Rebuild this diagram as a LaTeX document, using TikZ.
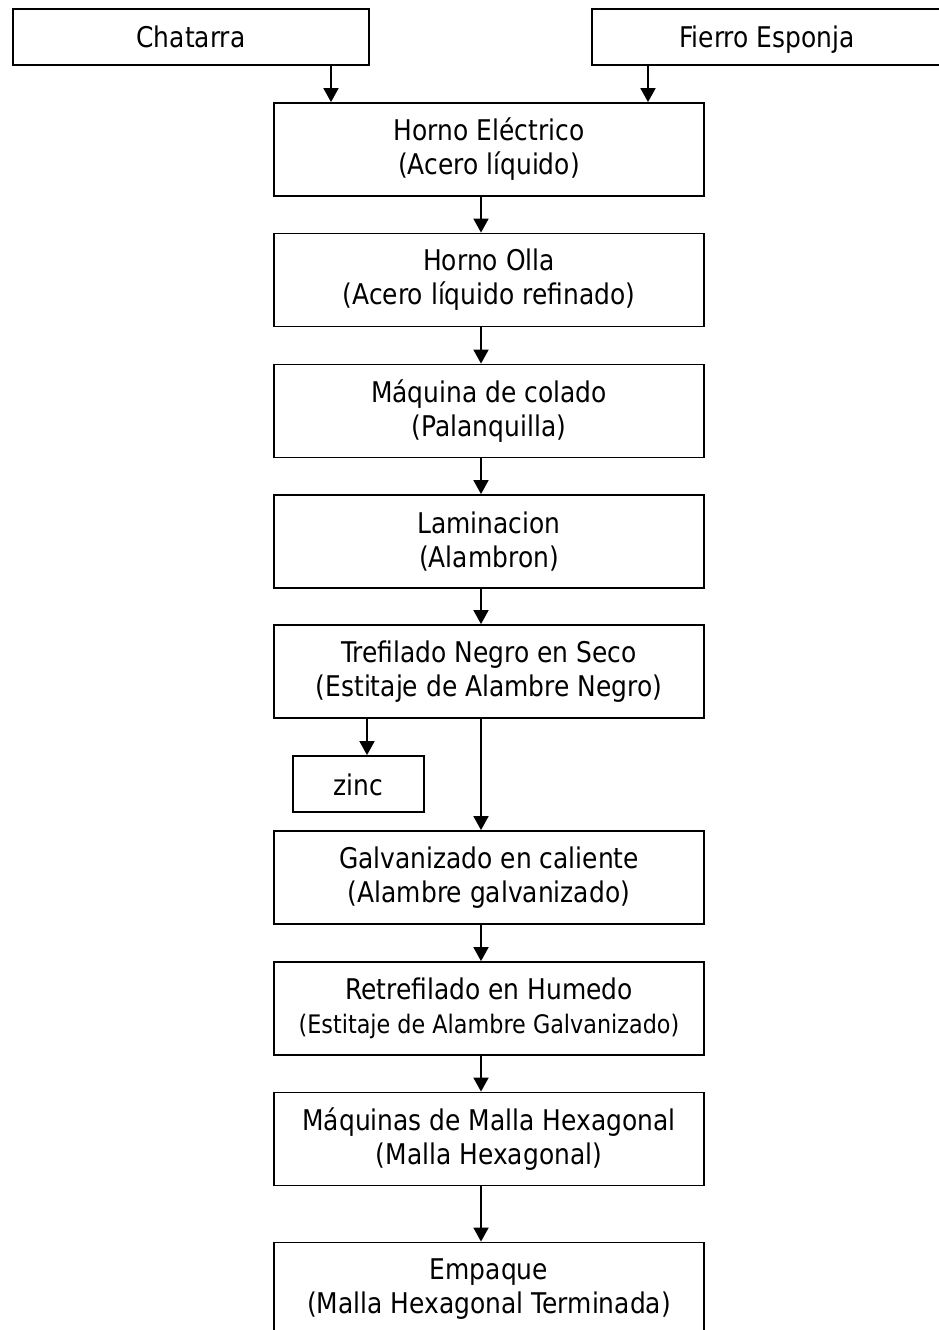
\documentclass[tikz,border=0pt]{standalone}
\usepackage{fontspec}
\setmainfont{DejaVu Sans}[FakeStretch=0.875]
\usetikzlibrary{arrows.meta}
\begin{document}
\begin{tikzpicture}[x=1pt,y=-1pt,
  box/.style={draw=black, line width=1.8pt, fill=white, inner sep=0pt, align=center,
    font=\fontsize{28.5}{34}\selectfont, text=black},
  onebox/.style={box, text height=27pt, text depth=5pt, minimum height=56pt},
  mainbox/.style={box, minimum width=430pt, minimum height=93pt},
  arr/.style={draw=black, line width=1.8pt, -{Triangle[length=14pt,width=15pt]}}]
\useasboundingbox (0,0) rectangle (938,1330);
\fill[white] (0,0) rectangle (938,1330);
% top inputs
\node[onebox, minimum width=356pt] (chat) at (191,37) {Chatarra};
\node[onebox, minimum width=350pt] (fier) at (767,37) {Fierro Esponja};
% main column
\node[mainbox] (he) at (489,149.5) {Horno Eléctrico\\(Acero líquido)};
\node[mainbox] (ho) at (489,280) {Horno Olla\\(Acero líquido refinado)};
\node[mainbox] (mc) at (489,411) {Máquina de colado\\(Palanquilla)};
\node[mainbox] (la) at (489,541.5) {Laminacion\\(Alambron)};
\node[mainbox] (tr) at (489,671.5) {Trefilado Negro en Seco\\(Estitaje de Alambre Negro)};
\node[onebox, minimum width=131pt] (zn) at (358.5,784) {zinc};
\node[mainbox] (ga) at (489,877.5) {Galvanizado en caliente\\(Alambre galvanizado)};
\node[mainbox] (re) at (489,1008.5) {Retrefilado en Humedo\\{\fontsize{25.5}{34}\selectfont(Estitaje de Alambre Galvanizado)}};
\node[mainbox] (mm) at (489,1139) {Máquinas de Malla Hexagonal\\(Malla Hexagonal)};
\node[mainbox] (em) at (489,1289) {Empaque\\(Malla Hexagonal Terminada)};
% connector columns
\coordinate (c1) at (331,0);
\coordinate (c2) at (648,0);
\coordinate (cm) at (481,0);
\coordinate (cz) at (367,0);
\draw[arr] (chat.south -| c1) -- (he.north -| c1);
\draw[arr] (fier.south -| c2) -- (he.north -| c2);
\draw[arr] (he.south -| cm) -- (ho.north -| cm);
\draw[arr] (ho.south -| cm) -- (mc.north -| cm);
\draw[arr] (mc.south -| cm) -- (la.north -| cm);
\draw[arr] (la.south -| cm) -- (tr.north -| cm);
\draw[arr] (tr.south -| cz) -- (zn.north -| cz);
\draw[arr] (tr.south -| cm) -- (ga.north -| cm);
\draw[arr] (ga.south -| cm) -- (re.north -| cm);
\draw[arr] (re.south -| cm) -- (mm.north -| cm);
\draw[arr] (mm.south -| cm) -- (em.north -| cm);
\end{tikzpicture}
\end{document}
